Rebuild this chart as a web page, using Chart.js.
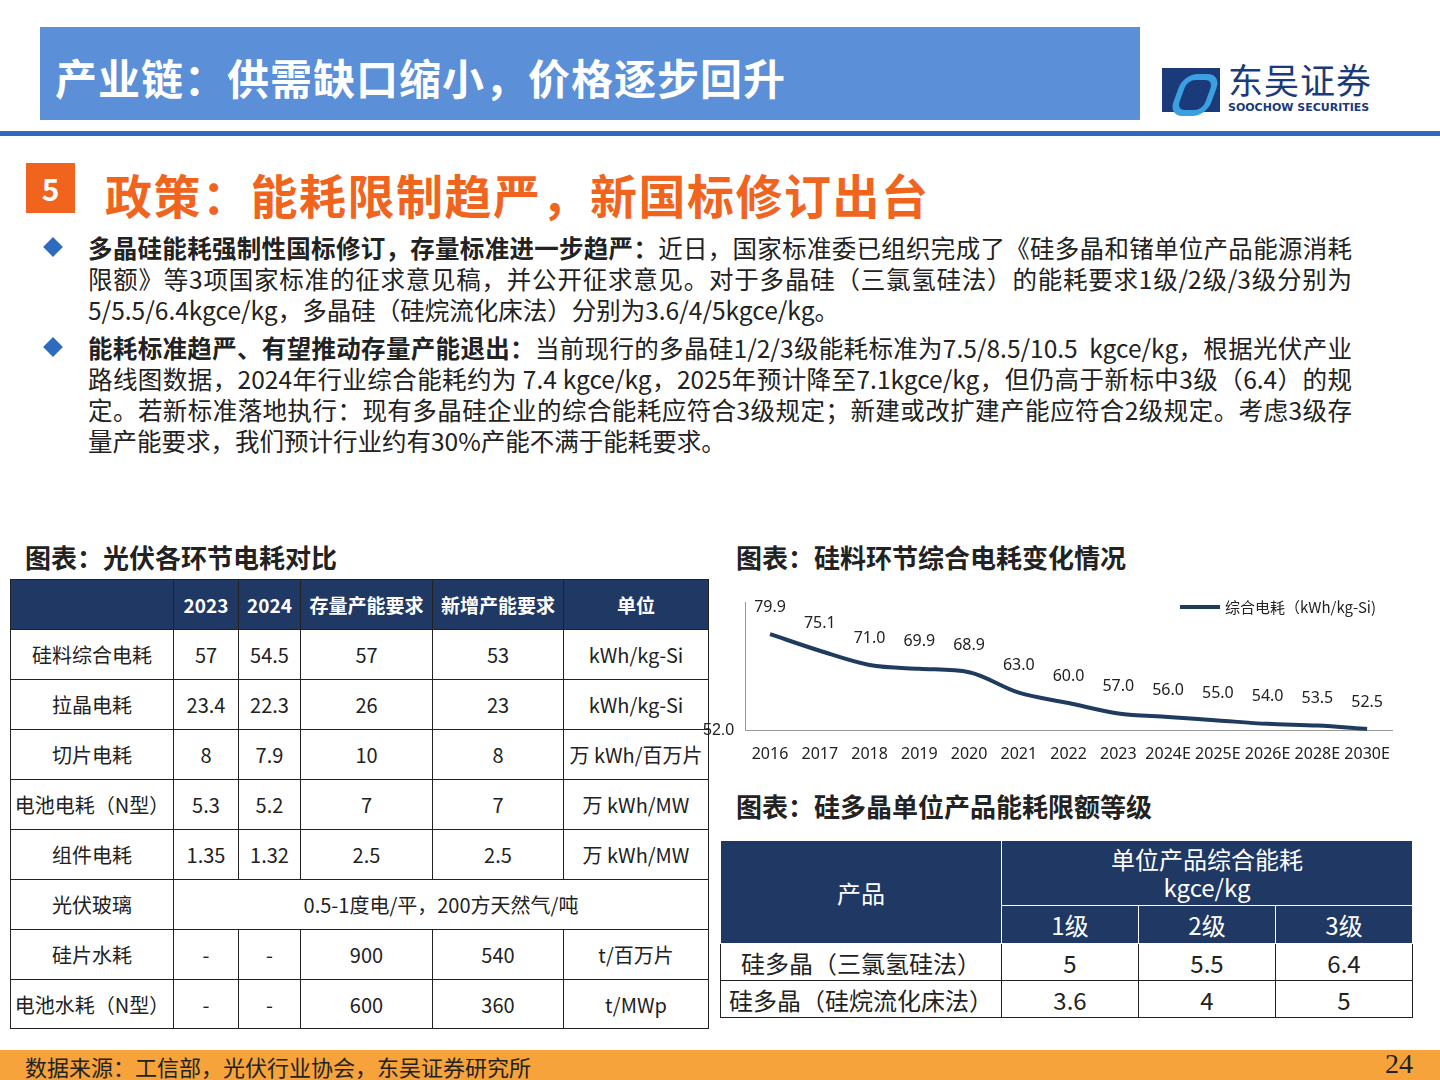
<!DOCTYPE html>
<html><head><meta charset="utf-8">
<script src="https://cdn.jsdelivr.net/npm/chart.js@4"></script>
<style>
body{margin:0;width:1440px;height:1080px;position:relative;background:#fff;font-family:"Noto Sans CJK SC","Noto Sans",sans-serif;overflow:hidden;color:#222}
.abs{position:absolute}
table{border-collapse:collapse;position:absolute;table-layout:fixed}
td,th{border:1.5px solid #222;text-align:center;padding:0;font-size:20px;font-weight:normal}
#t1 th{background:#1f3864;color:#fff;font-weight:bold;font-size:19px}
#t2 th{background:#1f3864;color:#fff;font-size:24px;border-color:#fff}
#t2 td{font-size:24px}
.bul{position:absolute;left:88px;width:1264px;font-size:24.5px;line-height:31px;color:#222;text-align:justify;text-align-last:left}
.dia{position:absolute;left:46px;width:14px;height:14px;background:#2e6bbf;transform:rotate(45deg)}
</style></head><body>
<div class="abs" style="left:40px;top:27px;width:1100px;height:93px;background:#5b8fd8"></div>
<div class="abs" style="left:55px;top:46px;font-size:42px;font-weight:bold;color:#fff;letter-spacing:1px">产业链：供需缺口缩小，价格逐步回升</div>
<div class="abs" style="left:1162px;top:68px;width:58px;height:44px;background:#1b3a7a"></div>
<div class="abs" style="left:1176px;top:74px;width:26px;height:30px;border:6px solid #3aa0e0;border-radius:14px;transform:skew(-20deg)"></div>
<div class="abs" style="left:1228px;top:58px;font-size:35px;line-height:42px;color:#1b3a7a;letter-spacing:1px">东吴证券</div>
<div class="abs" style="left:1228px;top:101px;font-size:11px;line-height:13px;font-weight:bold;color:#1b3a7a;font-family:'DejaVu Sans'">SOOCHOW SECURITIES</div>
<div class="abs" style="left:0;top:131px;width:1440px;height:5px;background:#2e6bbf"></div>
<div class="abs" style="left:26px;top:163px;width:49px;height:50px;background:#f0641e;color:#fff;font-size:30px;font-weight:bold;text-align:center;line-height:50px">5</div>
<div class="abs" style="left:105px;top:164px;font-size:47px;font-weight:bold;color:#f0641e;line-height:60px;letter-spacing:1.5px">政策：能耗限制趋严，新国标修订出台</div>
<div class="dia" style="top:240px"></div>
<div class="bul" style="top:232px"><b>多晶硅能耗强制性国标修订，存量标准进一步趋严：</b>近日，国家标准委已组织完成了《硅多晶和锗单位产品能源消耗限额》等3项国家标准的征求意见稿，并公开征求意见。对于多晶硅（三氯氢硅法）的能耗要求1级/2级/3级分别为5/5.5/6.4kgce/kg，多晶硅（硅烷流化床法）分别为3.6/4/5kgce/kg。</div>
<div class="dia" style="top:340px"></div>
<div class="bul" style="top:332px"><b>能耗标准趋严、有望推动存量产能退出：</b>当前现行的多晶硅1/2/3级能耗标准为7.5/8.5/10.5&nbsp; kgce/kg，根据光伏产业路线图数据，2024年行业综合能耗约为 7.4 kgce/kg，2025年预计降至7.1kgce/kg，但仍高于新标中3级（6.4）的规定。若新标准落地执行：现有多晶硅企业的综合能耗应符合3级规定；新建或改扩建产能应符合2级规定。考虑3级存量产能要求，我们预计行业约有30%产能不满于能耗要求。</div>
<div class="abs" style="left:25px;top:538px;font-size:26px;font-weight:bold">图表：光伏各环节电耗对比</div>
<div class="abs" style="left:736px;top:538px;font-size:26px;font-weight:bold">图表：硅料环节综合电耗变化情况</div>
<div class="abs" style="left:736px;top:787px;font-size:26px;font-weight:bold">图表：硅多晶单位产品能耗限额等级</div>
<table id="t1" style="left:10px;top:579px;width:698px">
<colgroup><col style="width:163px"><col style="width:65px"><col style="width:62px"><col style="width:132px"><col style="width:131px"><col style="width:145px"></colgroup>
<tr style="height:50px"><th></th><th>2023</th><th>2024</th><th>存量产能要求</th><th>新增产能要求</th><th>单位</th></tr>
<tr style="height:50px"><td>硅料综合电耗</td><td>57</td><td>54.5</td><td>57</td><td>53</td><td>kWh/kg-Si</td></tr>
<tr style="height:50px"><td>拉晶电耗</td><td>23.4</td><td>22.3</td><td>26</td><td>23</td><td>kWh/kg-Si</td></tr>
<tr style="height:50px"><td>切片电耗</td><td>8</td><td>7.9</td><td>10</td><td>8</td><td>万 kWh/百万片</td></tr>
<tr style="height:50px"><td>电池电耗（N型）</td><td>5.3</td><td>5.2</td><td>7</td><td>7</td><td>万 kWh/MW</td></tr>
<tr style="height:50px"><td>组件电耗</td><td>1.35</td><td>1.32</td><td>2.5</td><td>2.5</td><td>万 kWh/MW</td></tr>
<tr style="height:50px"><td>光伏玻璃</td><td colspan="5">0.5-1度电/平，200方天然气/吨</td></tr>
<tr style="height:50px"><td>硅片水耗</td><td>-</td><td>-</td><td>900</td><td>540</td><td>t/百万片</td></tr>
<tr style="height:49px"><td>电池水耗（N型）</td><td>-</td><td>-</td><td>600</td><td>360</td><td>t/MWp</td></tr>
</table>
<table id="t2" style="left:720px;top:840px;width:692px">
<colgroup><col style="width:281px"><col style="width:137px"><col style="width:137px"><col style="width:137px"></colgroup>
<tr style="height:65px"><th rowspan="2">产品</th><th colspan="3" style="line-height:28px">单位产品综合能耗<br>kgce/kg</th></tr>
<tr style="height:38px"><th>1级</th><th>2级</th><th>3级</th></tr>
<tr style="height:37px"><td>硅多晶（三氯氢硅法）</td><td>5</td><td>5.5</td><td>6.4</td></tr>
<tr style="height:37px"><td>硅多晶（硅烷流化床法）</td><td>3.6</td><td>4</td><td>5</td></tr>
</table>
<div class="abs" style="left:700px;top:590px;width:700px;height:180px"><canvas id="c"></canvas></div>
<div class="abs" style="left:0;top:1050px;width:1440px;height:30px;background:#f5a33a"></div>
<div class="abs" style="left:25px;top:1052px;font-size:22px;line-height:28px">数据来源：工信部，光伏行业协会，东吴证券研究所</div>
<div class="abs" style="left:1385px;top:1048px;font-size:28px;line-height:32px;font-family:'Liberation Serif'">24</div>
<script>
const categories=['2016','2017','2018','2019','2020','2021','2022','2023','2024E','2025E','2026E','2028E','2030E'];
const values=[79.9,75.1,71.0,69.9,68.9,63.0,60.0,57.0,56.0,55.0,54.0,53.5,52.5];
const seriesName='综合电耗（kWh/kg-Si)';
const labelPlugin={id:'lbl',afterDatasetsDraw(ch){const c=ch.ctx;const m=ch.getDatasetMeta(0);c.save();c.font='16px "Noto Sans"';c.fillStyle='#222';c.textAlign='center';c.textBaseline='middle';m.data.forEach((p,i)=>c.fillText(values[i].toFixed(1),p.x,p.y-27));
const a=ch.chartArea;c.fillStyle='#1f3b5e';c.fillRect(a.right-212,15,40,4);c.fillStyle='#222';c.textAlign='left';c.font='15px "Noto Sans CJK SC"';c.fillText(seriesName,a.right-167,17);c.restore();}};
new Chart(document.getElementById('c'),{type:'line',data:{labels:categories,datasets:[{label:seriesName,data:values,borderColor:'#1f3b5e',backgroundColor:'#1f3b5e',borderWidth:4,pointRadius:0,tension:0.4,cubicInterpolationMode:'monotone'}]},
options:{responsive:true,maintainAspectRatio:false,animation:false,layout:{padding:{left:0,right:8,top:2}},
plugins:{legend:{display:false},tooltip:{enabled:false}},
scales:{x:{offset:true,grid:{display:false,drawTicks:true},border:{color:'#999'},ticks:{color:'#222',font:{size:16,family:'Noto Sans'},maxRotation:0,autoSkip:false,padding:6}},
y:{min:52,max:89,afterBuildTicks(a){a.ticks=[{value:52}];},grid:{display:false},border:{color:'#999'},ticks:{color:'#222',font:{size:16},callback:v=>v.toFixed(1)}}}},plugins:[labelPlugin]});
</script>
</body></html>
